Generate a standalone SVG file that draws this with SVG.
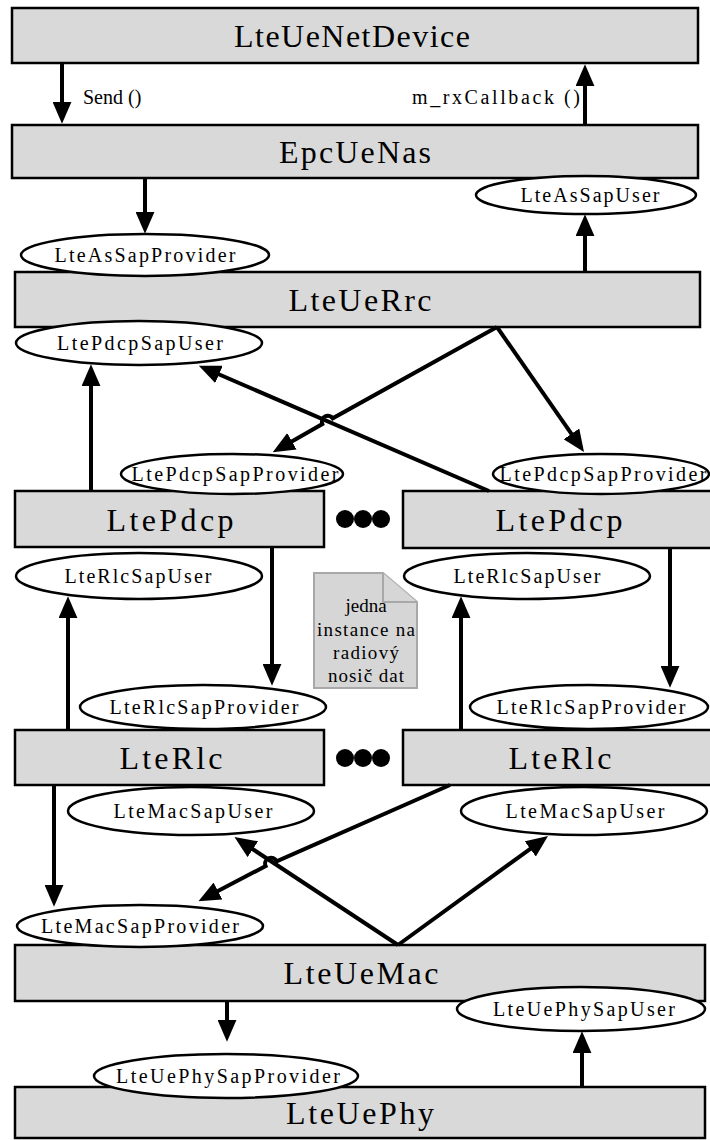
<svg xmlns="http://www.w3.org/2000/svg" width="710" height="1140" viewBox="0 0 710 1140">
<defs>
<marker id="ah" viewBox="0 0 10 10" preserveAspectRatio="none" markerUnits="userSpaceOnUse" markerWidth="22" markerHeight="19" refX="1" refY="5" orient="auto">
<path d="M0,0 L10,5 L0,10 z" fill="#000"/>
</marker>
</defs>
<style>
.box{fill:#d9d9d9;stroke:#000;stroke-width:2.5}
.ell{fill:#fff;stroke:#000;stroke-width:2.5}
.big{font-family:"Liberation Serif",serif;font-size:32px;fill:#000;text-anchor:middle}
.sm{font-family:"Liberation Serif",serif;font-size:20px;fill:#000;text-anchor:middle}
.lbl{font-family:"Liberation Serif",serif;font-size:20px;fill:#000}
.ln{fill:none;stroke:#000;stroke-width:4;marker-end:url(#ah)}
.dot{fill:#000}
.note{fill:#d6d6d6;stroke:#a8a8a8;stroke-width:2}
.nt{font-family:"Liberation Serif",serif;font-size:19px;fill:#000;text-anchor:middle}
</style>

<g id="LteUeNetDevice"><rect class="box" x="12" y="8" width="686" height="55"/><text class="big" x="352" y="47" textLength="236" lengthAdjust="spacing">LteUeNetDevice</text></g>
<g id="EpcUeNas"><rect class="box" x="12" y="125" width="686" height="53"/><text class="big" x="355" y="163" textLength="152" lengthAdjust="spacing">EpcUeNas</text></g>
<g id="LteUeRrc"><rect class="box" x="15" y="272" width="685" height="55"/><text class="big" x="360" y="311" textLength="143" lengthAdjust="spacing">LteUeRrc</text></g>
<g id="LtePdcp1"><rect class="box" x="15" y="491" width="309" height="56"/><text class="big" x="170" y="531" textLength="127" lengthAdjust="spacing">LtePdcp</text></g>
<g id="LtePdcp2"><rect class="box" x="403" y="491" width="312" height="57"/><text class="big" x="559" y="531" textLength="127" lengthAdjust="spacing">LtePdcp</text></g>
<g id="LteRlc1"><rect class="box" x="15" y="730" width="309" height="55"/><text class="big" x="171" y="769" textLength="103" lengthAdjust="spacing">LteRlc</text></g>
<g id="LteRlc2"><rect class="box" x="403" y="730" width="312" height="55"/><text class="big" x="560" y="769" textLength="103" lengthAdjust="spacing">LteRlc</text></g>
<g id="LteUeMac"><rect class="box" x="15" y="945" width="690" height="56"/><text class="big" x="361" y="984" textLength="155" lengthAdjust="spacing">LteUeMac</text></g>
<g id="LteUePhy"><rect class="box" x="15" y="1087" width="690" height="51"/><text class="big" x="360" y="1124" textLength="148" lengthAdjust="spacing">LteUePhy</text></g>

<g id="dots1"><circle class="dot" cx="345" cy="519" r="9"/><circle class="dot" cx="363" cy="519" r="9"/><circle class="dot" cx="381" cy="519" r="9"/></g>
<g id="dots2"><circle class="dot" cx="345" cy="758" r="9"/><circle class="dot" cx="363" cy="758" r="9"/><circle class="dot" cx="381" cy="758" r="9"/></g>

<g id="note"><path class="note" d="M314,573 L383,573 L417,602 L417,688 L314,688 Z"/><path class="note" d="M383,573 L383,602 L417,602"/>
<text class="nt" x="366" y="612">jedna</text><text class="nt" x="366" y="636" textLength="98" lengthAdjust="spacing">instance na</text><text class="nt" x="366" y="659" textLength="66" lengthAdjust="spacing">radiový</text><text class="nt" x="366" y="682" textLength="76" lengthAdjust="spacing">nosič dat</text></g>

<g id="connectors">
<path class="ln" d="M62,63 L62,104"/>
<path class="ln" d="M585,125 L585,84"/>
<path class="ln" d="M145,178 L145,214"/>
<path class="ln" d="M585,272 L585,234"/>
<path class="ln" d="M497,327 L332.7,418.3 A6,6 0 0 0 322.3,424.1 L290,442.4"/>
<path class="ln" d="M497,327 L572.7,435.7"/>
<path class="ln" d="M489,491 L217,373.5"/>
<path class="ln" d="M91,491 L91,384"/>
<path class="ln" d="M272,547 L272,666"/>
<path class="ln" d="M68,730 L68,616"/>
<path class="ln" d="M670,548 L670,668"/>
<path class="ln" d="M461,730 L461,616"/>
<path class="ln" d="M54,785 L54,887"/>
<path class="ln" d="M450,785 L276.6,861.3 A6,6 0 0 0 265.6,866.1 L216,892"/>
<path class="ln" d="M398,945 L251,848"/>
<path class="ln" d="M398,945 L532,847.6"/>
<path class="ln" d="M227,1001 L227,1022"/>
<path class="ln" d="M582,1087 L582,1051"/>
</g>
<g id="labels"><text class="lbl" x="83" y="104">Send ()</text><text class="lbl" x="580" y="104" text-anchor="end" textLength="168" lengthAdjust="spacing">m_rxCallback ()</text></g>

<g id="LteAsSapUser"><ellipse class="ell" cx="586" cy="195" rx="110" ry="19"/><text class="sm" x="590" y="202" textLength="139" lengthAdjust="spacing">LteAsSapUser</text></g>
<g id="LteAsSapProvider"><ellipse class="ell" cx="145" cy="255" rx="124" ry="21"/><text class="sm" x="145" y="262" textLength="181" lengthAdjust="spacing">LteAsSapProvider</text></g>
<g id="LtePdcpSapUser"><ellipse class="ell" cx="139" cy="343" rx="123" ry="22"/><text class="sm" x="140" y="350" textLength="166" lengthAdjust="spacing">LtePdcpSapUser</text></g>
<g id="LtePdcpSapProvider1"><ellipse class="ell" cx="232" cy="474" rx="111" ry="20"/><text class="sm" x="235" y="481" textLength="207" lengthAdjust="spacing">LtePdcpSapProvider</text></g>
<g id="LtePdcpSapProvider2"><ellipse class="ell" cx="601" cy="474" rx="108" ry="20"/><text class="sm" x="603" y="481" textLength="207" lengthAdjust="spacing">LtePdcpSapProvider</text></g>
<g id="LteRlcSapUser1"><ellipse class="ell" cx="139" cy="576" rx="123" ry="23"/><text class="sm" x="138" y="583" textLength="147" lengthAdjust="spacing">LteRlcSapUser</text></g>
<g id="LteRlcSapUser2"><ellipse class="ell" cx="527" cy="576" rx="123" ry="23"/><text class="sm" x="527" y="583" textLength="147" lengthAdjust="spacing">LteRlcSapUser</text></g>
<g id="LteRlcSapProvider1"><ellipse class="ell" cx="203" cy="707" rx="123" ry="22"/><text class="sm" x="204" y="714" textLength="189" lengthAdjust="spacing">LteRlcSapProvider</text></g>
<g id="LteRlcSapProvider2"><ellipse class="ell" cx="589" cy="707" rx="119" ry="22"/><text class="sm" x="591" y="714" textLength="189" lengthAdjust="spacing">LteRlcSapProvider</text></g>
<g id="LteMacSapUser1"><ellipse class="ell" cx="191" cy="811" rx="123" ry="24"/><text class="sm" x="193" y="818" textLength="159" lengthAdjust="spacing">LteMacSapUser</text></g>
<g id="LteMacSapUser2"><ellipse class="ell" cx="584" cy="811" rx="123" ry="24"/><text class="sm" x="585" y="818" textLength="159" lengthAdjust="spacing">LteMacSapUser</text></g>
<g id="LteMacSapProvider"><ellipse class="ell" cx="140" cy="926" rx="123" ry="21"/><text class="sm" x="140" y="933" textLength="198" lengthAdjust="spacing">LteMacSapProvider</text></g>
<g id="LteUePhySapUser"><ellipse class="ell" cx="581" cy="1009" rx="124" ry="22"/><text class="sm" x="584" y="1016" textLength="182" lengthAdjust="spacing">LteUePhySapUser</text></g>
<g id="LteUePhySapProvider"><ellipse class="ell" cx="226" cy="1076" rx="132" ry="22"/><text class="sm" x="228" y="1083" textLength="224" lengthAdjust="spacing">LteUePhySapProvider</text></g>
</svg>
